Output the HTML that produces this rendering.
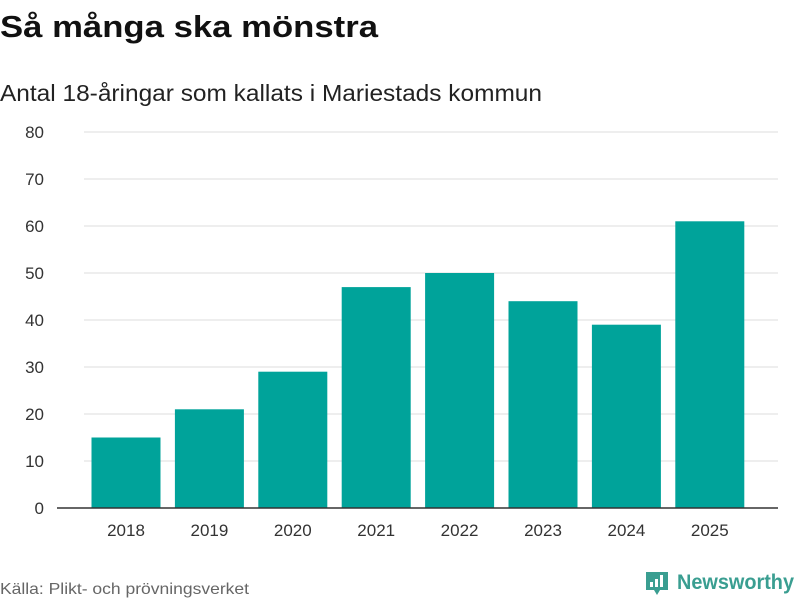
<!DOCTYPE html>
<html><head><meta charset="utf-8"><style>
body{margin:0;background:#fff;font-family:"Liberation Sans",sans-serif;}
#wrap{position:relative;width:800px;height:600px;overflow:hidden;}
</style></head><body>
<div id="wrap">
<svg id="chart" width="800" height="600" xmlns="http://www.w3.org/2000/svg">
<text x="0" y="37" font-size="31" font-weight="bold" fill="#111" textLength="378" lengthAdjust="spacingAndGlyphs">Så många ska mönstra</text>
<text x="0" y="101" font-size="23" fill="#222" textLength="542" lengthAdjust="spacingAndGlyphs">Antal 18-åringar som kallats i Mariestads kommun</text>
<g id="grid"></g><g id="bars"></g><g id="xlabels"></g>
<line x1="57" x2="778" y1="508" y2="508" stroke="#333" stroke-width="1.5"/>
<text x="0" y="594" font-size="16" fill="#666" textLength="249" lengthAdjust="spacingAndGlyphs">Källa: Plikt- och prövningsverket</text>
<g>
<path d="M646 572h22v18h-8l-3 5-3-5h-8z" fill="#3a9e91"/>
<rect x="650" y="582" width="3" height="5" fill="#fff"/><rect x="655" y="579" width="3" height="8" fill="#fff"/><rect x="660" y="575" width="3" height="12" fill="#fff"/>
<text x="677" y="589" font-size="21" font-weight="bold" fill="#3a9e91" textLength="117" lengthAdjust="spacingAndGlyphs">Newsworthy</text>
</g>
</svg>
</div>
<script>
const categories=["2018","2019","2020","2021","2022","2023","2024","2025"];
const values=[15,21,29,47,50,44,39,61];
const yTicks=[0,10,20,30,40,50,60,70,80];
const NS="http://www.w3.org/2000/svg";
const y=v=>508-v*4.7;
const x=i=>126+i*83.4;
const grid=document.getElementById('grid'),bars=document.getElementById('bars'),xl=document.getElementById('xlabels');
yTicks.forEach(t=>{
 if(t>0){const l=document.createElementNS(NS,'line');
 l.setAttribute('x1',84);l.setAttribute('x2',778);l.setAttribute('y1',y(t));l.setAttribute('y2',y(t));
 l.setAttribute('stroke','#ddd');
 
 
 grid.appendChild(l);}
 const tx=document.createElementNS(NS,'text');
 tx.setAttribute('x',44);tx.setAttribute('y',y(t)+6);tx.setAttribute('text-anchor','end');
 tx.setAttribute('font-size','17');tx.setAttribute('fill','#333');tx.textContent=t;
 
 
 grid.appendChild(tx);
});
categories.forEach((c,i)=>{
 const r=document.createElementNS(NS,'rect');
 r.setAttribute('x',x(i)-34.5);r.setAttribute('width',69);
 r.setAttribute('y',y(values[i]));r.setAttribute('height',508-y(values[i]));
 r.setAttribute('fill','#00a39a');
 
 
 bars.appendChild(r);
 const tx=document.createElementNS(NS,'text');
 tx.setAttribute('x',x(i));tx.setAttribute('y',536);tx.setAttribute('text-anchor','middle');
 tx.setAttribute('font-size','17');tx.setAttribute('fill','#333');tx.textContent=c;
 
 
 xl.appendChild(tx);
});
</script>
</body></html>
